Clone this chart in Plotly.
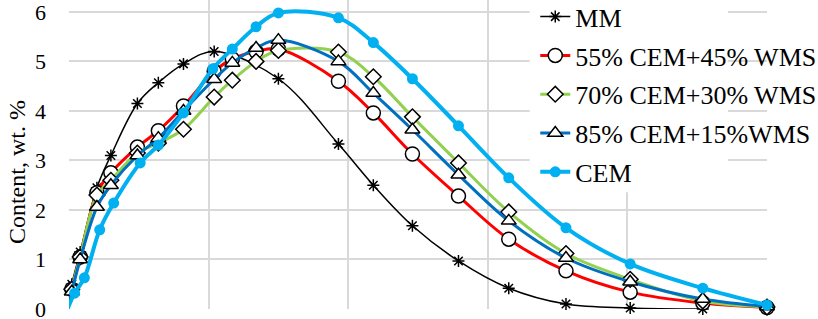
import plotly.graph_objects as go

# x positions (arbitrary axis units, gridlines at integers 0..5; x tick labels are not shown)
x_common = [-0.01, 0.02, 0.08, 0.2, 0.3, 0.49, 0.64, 0.82, 1.04, 1.17, 1.34, 1.5,
            1.93, 2.18, 2.46, 2.79, 3.15, 3.56, 4.02, 4.54, 5.0]
x_mm = [-0.01, 0.02, 0.08, 0.2, 0.3, 0.49, 0.64, 0.82, 1.04, 1.5,
        1.93, 2.18, 2.46, 2.79, 3.15, 3.56, 4.02, 4.54]
x_cem = [-0.01, 0.04, 0.11, 0.22, 0.32, 0.51, 0.64, 0.82, 1.03, 1.17, 1.34, 1.5,
         1.93, 2.18, 2.46, 2.79, 3.15, 3.56, 4.02, 4.54, 5.0]

mm = [0.0, 0.5, 1.15, 2.45, 3.1, 4.15, 4.57, 4.95, 5.2, 4.65,
      3.33, 2.5, 1.68, 0.97, 0.42, 0.1, 0.02, 0.0]
cem55 = [0.0, 0.4, 1.05, 2.35, 2.75, 3.27, 3.6, 4.1, 4.8, 5.05, 5.2, 5.25,
         4.6, 3.96, 3.13, 2.28, 1.41, 0.77, 0.34, 0.12, 0.03]
cem70 = [0.0, 0.4, 1.05, 2.3, 2.6, 3.15, 3.35, 3.63, 4.28, 4.62, 5.0, 5.22,
         5.19, 4.69, 3.88, 2.95, 1.96, 1.12, 0.6, 0.16, 0.04]
cem85 = [0.0, 0.35, 1.0, 2.06, 2.5, 3.1, 3.45, 4.0, 4.64, 4.97, 5.27, 5.43,
         5.0, 4.36, 3.62, 2.71, 1.78, 1.03, 0.55, 0.2, 0.05]
cem = [0.0, 0.32, 0.63, 1.6, 2.14, 2.95, 3.31, 3.96, 4.85, 5.25, 5.7, 5.98,
       5.88, 5.38, 4.65, 3.7, 2.65, 1.64, 0.91, 0.42, 0.08]

names = ["MM", "55% CEM+45% WMS", "70% CEM+30% WMS", "85% CEM+15%WMS", "CEM"]
y_ticks = [0, 1, 2, 3, 4, 5, 6]

FONT = "Liberation Serif, Times New Roman, Times, serif"

series = [
    (x_mm, mm, "black", 1.5, dict(symbol="asterisk-open", size=10, color="black",
                                  line=dict(color="black", width=1.5))),
    (x_common, cem55, "#FF0000", 3, dict(symbol="circle", size=14, color="white",
                                         line=dict(color="black", width=1.5))),
    (x_common, cem70, "#92D050", 3, dict(symbol="diamond", size=12, color="white",
                                         line=dict(color="black", width=1.5))),
    (x_common, cem85, "#0070C0", 3, dict(symbol="triangle-up", size=13, color="white",
                                         line=dict(color="black", width=1.5))),
    (x_cem, cem, "#00B0F0", 4, dict(symbol="circle", size=11, color="#00B0F0",
                                    line=dict(color="#00B0F0", width=0))),
]

fig = go.Figure()
for i, (xs, ys, col, w, mk) in enumerate(series):
    fig.add_trace(go.Scatter(
        x=xs, y=ys, name=names[i], mode="lines+markers",
        line=dict(color=col, width=w, shape="spline", smoothing=1.0),
        marker=mk, cliponaxis=False, legendgroup=str(i),
    ))

grid = "#D9D9D9"
fig.update_layout(
    width=818, height=319,
    margin=dict(l=69, r=51, t=0, b=10, autoexpand=False),
    paper_bgcolor="white", plot_bgcolor="white",
    font=dict(family=FONT, color="black"),
    showlegend=True,
    legend=dict(x=0.668, y=1.022, xanchor="left", yanchor="top",
                bgcolor="rgba(0,0,0,0)", font=dict(size=26, family=FONT),
                tracegroupgap=2, itemwidth=30, maxheight=600),
    xaxis=dict(range=[0, 5], dtick=1, showticklabels=False, showgrid=True,
               gridcolor=grid, gridwidth=1.5, zeroline=False, showline=False, ticks=""),
    yaxis=dict(range=[0, 6.24], tickvals=y_ticks, showgrid=True, gridcolor=grid,
               gridwidth=1.5, zeroline=False, showline=False, ticks="",
               tickfont=dict(size=22, family=FONT), ticklabelstandoff=22,
               ticklabeloverflow="allow"),
    shapes=[dict(type="rect", xref="x", yref="y", x0=3.3, x1=4.72, y0=2.36, y1=6.4,
                 fillcolor="white", line=dict(width=0), layer="between")],
    annotations=[dict(text="Content, wt. %", xref="paper", yref="paper", x=0, y=0.443,
                      xshift=-52, xanchor="center", yanchor="middle", textangle=-90,
                      showarrow=False, font=dict(size=24, family=FONT))],
)

fig.write_html("out.html", config={"displayModeBar": False},
               post_script="document.body.style.margin='0';document.body.style.overflow='hidden';")
